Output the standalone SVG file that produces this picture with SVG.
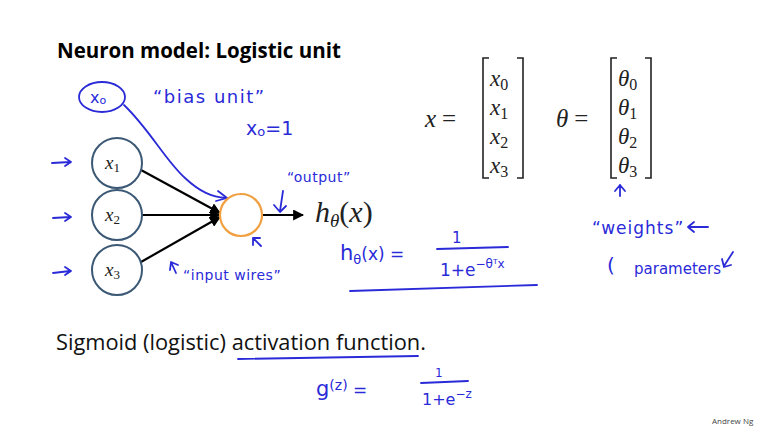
<svg xmlns="http://www.w3.org/2000/svg" width="778" height="430" viewBox="0 0 778 430">
<style>
.title{font-family:"Open Sans","Liberation Sans",sans-serif;font-weight:bold;font-size:20.5px;fill:#000}
.body{font-family:"Open Sans","Liberation Sans",sans-serif;font-size:21.8px;fill:#111}
.m{font-family:"Liberation Serif","DejaVu Serif",serif;fill:#222}
.mi{font-style:italic}
.hand{font-family:"DejaVu Sans","Liberation Sans",sans-serif;fill:#2a2ad8}
.ink{stroke:#2a2ad8;stroke-width:1.8;fill:none;stroke-linecap:round;stroke-linejoin:round}
.node{fill:#fff;stroke:#3b5875;stroke-width:2}
.wire{stroke:#000;stroke-width:2.2;fill:none}
.br{stroke:#222;stroke-width:1.6;fill:none}
</style>
<defs>
<marker id="ah" viewBox="0 0 10 10" refX="9" refY="5" markerWidth="5" markerHeight="5" orient="auto" markerUnits="strokeWidth">
<path d="M0,0 L10,5 L0,10 z" fill="#000"/>
</marker>
</defs>
<rect width="778" height="430" fill="#fff"/>
<text class="title" x="57" y="58">Neuron model: Logistic unit</text>

<g id="connectors">
<line class="wire" x1="141" y1="170" x2="220" y2="213" marker-end="url(#ah)"/>
<line class="wire" x1="142" y1="215" x2="220" y2="215" marker-end="url(#ah)"/>
<line class="wire" x1="141" y1="262" x2="220" y2="217" marker-end="url(#ah)"/>
<line class="wire" x1="262" y1="215" x2="303" y2="215" marker-end="url(#ah)"/>
<path class="ink" d="M124,105 C150,130 165,160 185,178 C200,192 212,197 226,198"/>
<path class="ink" d="M218,191 L227,198 L216,201"/>
</g>

<g id="x0">
<ellipse class="ink" cx="102" cy="97" rx="23" ry="15"/>
<text class="hand" x="90" y="103" font-size="16">x<tspan font-size="11" dy="1">o</tspan></text>
</g>
<g id="x1">
<circle class="node" cx="117" cy="163" r="25"/>
<text class="m" x="105" y="169" font-size="19"><tspan class="mi">x</tspan><tspan font-size="13" dy="3">1</tspan></text>
</g>
<g id="x2">
<circle class="node" cx="117" cy="215" r="25"/>
<text class="m" x="105" y="221" font-size="19"><tspan class="mi">x</tspan><tspan font-size="13" dy="3">2</tspan></text>
</g>
<g id="x3">
<circle class="node" cx="117" cy="270" r="25"/>
<text class="m" x="105" y="276" font-size="19"><tspan class="mi">x</tspan><tspan font-size="13" dy="3">3</tspan></text>
</g>
<g id="unit">
<circle cx="241" cy="215" r="21" fill="#fff" stroke="#f0a040" stroke-width="2.2"/>
</g>
<g id="output">
<text class="m" x="315" y="222" font-size="30"><tspan class="mi">h</tspan><tspan class="mi" font-size="19" dy="5">θ</tspan><tspan dy="-5">(</tspan><tspan class="mi">x</tspan><tspan>)</tspan></text>
</g>

<g id="annotations">
<path class="ink" d="M52,163 L70,162 M65,158 L71,162 L65,166"/>
<path class="ink" d="M53,218 L70,217 M65,213 L71,217 L65,221"/>
<path class="ink" d="M53,273 L70,271 M65,267 L71,271 L65,275"/>
<text class="hand" x="153" y="103" font-size="18" letter-spacing="1.5">“bias unit”</text>
<text class="hand" x="246" y="135" font-size="19">x<tspan font-size="13" dy="1">o</tspan><tspan dy="-1">=1</tspan></text>
<text class="hand" x="287" y="182" font-size="14" letter-spacing="0.5">“output”</text>
<path class="ink" d="M283,191 L280,211 M274,205 L280,212 L286,206"/>
<path class="ink" d="M261,246 L253,238 M253,245 L253,238 L260,238"/>
<path class="ink" d="M176,273 L171,262 M170,270 L171,262 L178,265"/>
<text class="hand" x="183" y="280" font-size="14" letter-spacing="0.5">“input wires”</text>
</g>

<g id="vectors">
<text class="m" x="425" y="127" font-size="25"><tspan class="mi">x</tspan><tspan dx="6">=</tspan></text>
<path class="br" d="M489,58 L483,58 L483,178 L489,178 M517,58 L523,58 L523,178 L517,178"/>
<text class="m" font-size="23"><tspan class="mi" x="490" y="86">x</tspan><tspan font-size="16" dy="4">0</tspan></text>
<text class="m" font-size="23"><tspan class="mi" x="490" y="115">x</tspan><tspan font-size="16" dy="4">1</tspan></text>
<text class="m" font-size="23"><tspan class="mi" x="490" y="144">x</tspan><tspan font-size="16" dy="4">2</tspan></text>
<text class="m" font-size="23"><tspan class="mi" x="490" y="173">x</tspan><tspan font-size="16" dy="4">3</tspan></text>
<text class="m" x="556" y="127" font-size="25"><tspan class="mi">θ</tspan><tspan dx="6">=</tspan></text>
<path class="br" d="M617,58 L611,58 L611,178 L617,178 M645,58 L651,58 L651,178 L645,178"/>
<text class="m" font-size="23"><tspan class="mi" x="618" y="86">θ</tspan><tspan font-size="16" dy="4">0</tspan></text>
<text class="m" font-size="23"><tspan class="mi" x="618" y="115">θ</tspan><tspan font-size="16" dy="4">1</tspan></text>
<text class="m" font-size="23"><tspan class="mi" x="618" y="144">θ</tspan><tspan font-size="16" dy="4">2</tspan></text>
<text class="m" font-size="23"><tspan class="mi" x="618" y="173">θ</tspan><tspan font-size="16" dy="4">3</tspan></text>
</g>

<g id="hypothesis">
<text class="hand" x="340" y="260" font-size="21">h<tspan font-size="13" dy="4">θ</tspan><tspan dy="-4" font-size="17">(x) =</tspan></text>
<text class="hand" x="452" y="243" font-size="15">1</text>
<path class="ink" d="M437,249 L508,247"/>
<text class="hand" x="440" y="276" font-size="17">1+e<tspan font-size="12" dy="-8">−θᵀx</tspan></text>
<path class="ink" d="M350,291 L537,285"/>
</g>

<g id="weights">
<path class="ink" d="M620,196 L620,185 M615,191 L620,185 L625,191"/>
<text class="hand" x="592" y="234" font-size="17" letter-spacing="1">“weights”</text>
<path class="ink" d="M708,227 L688,227 M694,222 L688,227 L694,232"/>
<text class="hand" x="607" y="272" font-size="20">(</text>
<text class="hand" x="634" y="274" font-size="15">parameters</text>
<path class="ink" d="M733,252 L724,266 M722,259 L724,267 L731,265"/>
</g>

<text class="body" x="56" y="350">Sigmoid (logistic) activation function.</text>
<path class="ink" d="M238,359 L418,356"/>
<g id="sigmoid">
<text class="hand" x="316" y="396" font-size="21">g<tspan font-size="14" dy="-6">(z)</tspan><tspan dy="6" font-size="17"> =</tspan></text>
<text class="hand" x="435" y="377" font-size="12">1</text>
<path class="ink" d="M421,383 L468,381"/>
<text class="hand" x="422" y="405" font-size="16">1+e<tspan font-size="12" dy="-7">−z</tspan></text>
</g>
<text x="712" y="424" font-family="Open Sans,Liberation Sans,sans-serif" font-size="8" fill="#444">Andrew Ng</text>
</svg>
